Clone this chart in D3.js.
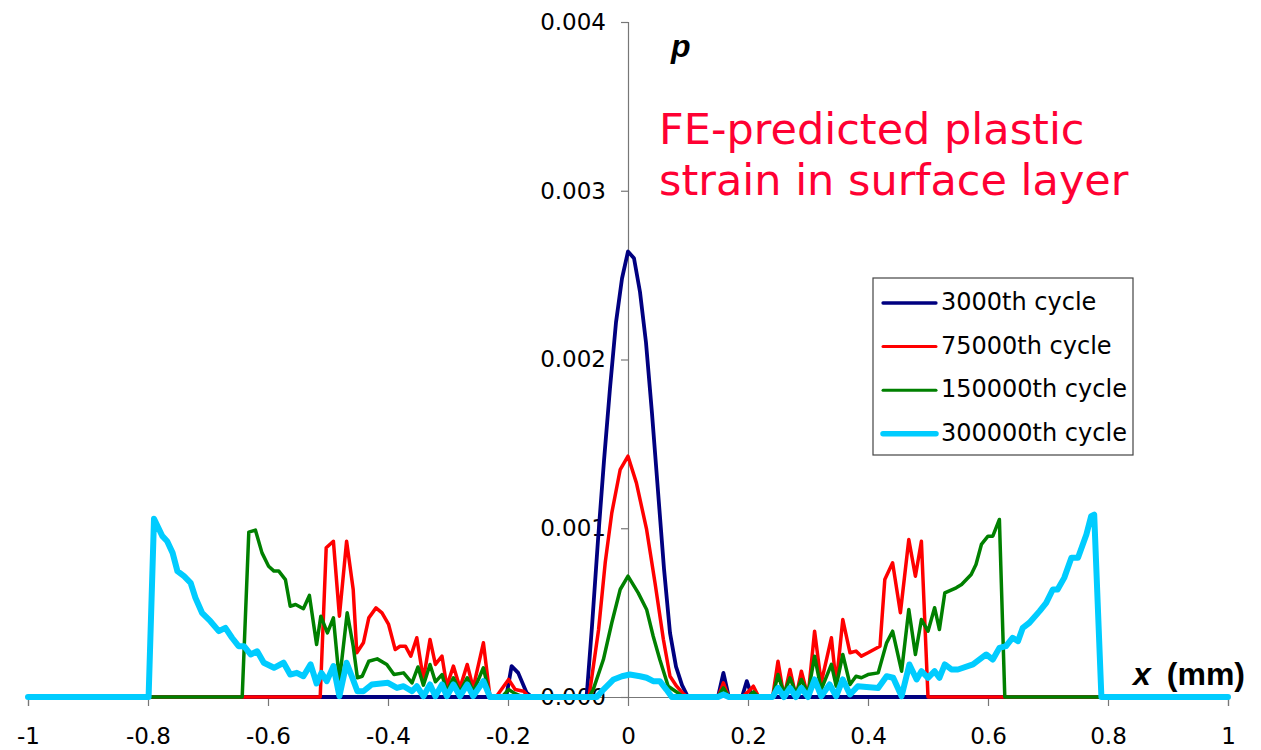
<!DOCTYPE html>
<html>
<head>
<meta charset="utf-8">
<script src="https://cdn.jsdelivr.net/npm/d3@7"></script>
<style>
    body { margin: 0; background: #fff; }
    svg { display: block; }
</style>
</head>
<body>
<div id="chart"></div>
<script>
// values, [x in mm, p]
const cycle3000 = [
    [-1, 0], [-0.21, 0], [-0.202, 0.00002], [-0.194, 0.000183], [-0.183, 0.000143], [-0.169, 0.000025], [-0.16, 0],
    [-0.069, 0], [-0.06, 0.00042], [-0.05, 0.00093], [-0.04, 0.0014], [-0.03, 0.00183], [-0.02, 0.00222], [-0.01, 0.00248],
    [0, 0.00264], [0.01, 0.0026], [0.02, 0.0024], [0.03, 0.0021], [0.04, 0.00168], [0.05, 0.00122], [0.06, 0.00076],
    [0.07, 0.00038], [0.08, 0.00018], [0.09, 0.00007], [0.1, 0], [0.15, 0], [0.159, 0.000143], [0.168, 0],
    [0.19, 0], [0.198, 0.000094], [0.207, 0], [1, 0]
];

const cycle75000 = [
    [-1, 0], [-0.513, 0], [-0.503, 0.000884], [-0.491, 0.000923], [-0.481, 0.000479], [-0.469, 0.000923],
    [-0.458, 0.000637], [-0.452, 0.000262], [-0.441, 0.000321], [-0.432, 0.000469], [-0.42, 0.000528],
    [-0.41, 0.000499], [-0.399, 0.00043], [-0.388, 0.000281], [-0.38, 0.000301], [-0.371, 0.000301],
    [-0.362, 0.000242], [-0.352, 0.000351], [-0.341, 0.000104], [-0.33, 0.000341], [-0.321, 0.000193],
    [-0.31, 0.000242], [-0.302, 0.000064], [-0.291, 0.000183], [-0.28, 0.000054], [-0.268, 0.000193],
    [-0.258, 0.000054], [-0.241, 0.000321], [-0.23, 0], [-0.22, 0], [-0.199, 0.000104], [-0.188, 0.000044],
    [-0.174, 0.000034], [-0.165, 0], [-0.065, 0], [-0.049, 0.0004], [-0.038, 0.000795], [-0.027, 0.001091],
    [-0.013, 0.001348], [0, 0.001427], [0.014, 0.001269], [0.031, 0.000993], [0.045, 0.000677], [0.059, 0.000341],
    [0.07, 0.000123], [0.081, 0.000064], [0.092, 0.00002], [0.1, 0], [0.15, 0], [0.159, 0.000084], [0.168, 0],
    [0.19, 0], [0.2, 0.00003], [0.209, 0.000064], [0.218, 0], [0.241, 0], [0.25, 0.000212], [0.26, 0],
    [0.27, 0.000163], [0.28, 0], [0.289, 0.000153], [0.3, 0], [0.311, 0.00039], [0.322, 0.000084],
    [0.339, 0.000351], [0.347, 0.000074], [0.358, 0.000459], [0.37, 0.000262], [0.38, 0.000272],
    [0.389, 0.000242], [0.4, 0.000262], [0.42, 0.000301], [0.428, 0.000696], [0.441, 0.000795],
    [0.454, 0.000499], [0.468, 0.000933], [0.479, 0.000716], [0.489, 0.000923], [0.5, 0], [1, 0]
];

const cycle150000 = [
    [-1, 0], [-0.643, 0], [-0.632, 0.000977], [-0.621, 0.000989], [-0.61, 0.000854], [-0.599, 0.000775],
    [-0.59, 0.000746], [-0.582, 0.000746], [-0.571, 0.000696], [-0.563, 0.000538], [-0.554, 0.000548],
    [-0.541, 0.000523], [-0.531, 0.000602], [-0.519, 0.000311], [-0.512, 0.000479], [-0.501, 0.00038],
    [-0.491, 0.000469], [-0.481, 0.000094], [-0.468, 0.000499], [-0.458, 0.000301], [-0.451, 0.000114],
    [-0.443, 0.000123], [-0.432, 0.000212], [-0.418, 0.000226], [-0.402, 0.000193], [-0.39, 0.000133],
    [-0.374, 0.000143], [-0.36, 0.000084], [-0.35, 0.000178], [-0.341, 0.00007], [-0.33, 0.000193],
    [-0.321, 0.00009], [-0.31, 0.000133], [-0.302, 0.00003], [-0.291, 0.000114], [-0.28, 0.00003],
    [-0.268, 0.000114], [-0.258, 0.00003], [-0.241, 0.000173], [-0.23, 0], [-0.21, 0], [-0.199, 0.000044],
    [-0.188, 0.00002], [-0.175, 0], [-0.065, 0], [-0.058, 0.000044], [-0.041, 0.000222], [-0.027, 0.00044],
    [-0.013, 0.000637], [0, 0.000716], [0.017, 0.000617], [0.031, 0.000519], [0.042, 0.00036], [0.053, 0.000222],
    [0.067, 0.000064], [0.081, 0.00003], [0.092, 0], [0.15, 0], [0.159, 0.000054], [0.168, 0], [0.2, 0],
    [0.209, 0.00003], [0.218, 0], [0.241, 0], [0.25, 0.000133], [0.26, 0.00002], [0.27, 0.000114], [0.28, 0.00002],
    [0.289, 0.000104], [0.3, 0.00002], [0.311, 0.000242], [0.322, 0.000044], [0.339, 0.000193], [0.347, 0.000064],
    [0.358, 0.000252], [0.37, 0.000074], [0.38, 0.000123], [0.389, 0.000114], [0.4, 0.000133], [0.417, 0.000143],
    [0.431, 0.000321], [0.441, 0.00039], [0.456, 0.000153], [0.468, 0.000519], [0.479, 0.000252], [0.489, 0.000459],
    [0.5, 0.00039], [0.511, 0.000529], [0.519, 0.0004], [0.528, 0.000617], [0.547, 0.000647], [0.556, 0.000667],
    [0.572, 0.000726], [0.58, 0.000785], [0.589, 0.000904], [0.6, 0.000953], [0.608, 0.000953], [0.619, 0.001052],
    [0.628, 0], [1, 0]
];

const cycle300000 = [
    [-1, 0], [-0.799, 0], [-0.79, 0.001056], [-0.776, 0.000953], [-0.768, 0.000923], [-0.759, 0.000854],
    [-0.751, 0.000746], [-0.74, 0.000716], [-0.729, 0.000677], [-0.721, 0.000588], [-0.71, 0.000499],
    [-0.696, 0.000449], [-0.682, 0.00039], [-0.671, 0.00041], [-0.66, 0.000351], [-0.649, 0.000301],
    [-0.64, 0.000301], [-0.629, 0.000252], [-0.618, 0.000271], [-0.607, 0.000203], [-0.59, 0.000173],
    [-0.574, 0.000203], [-0.563, 0.000133], [-0.552, 0.000143], [-0.541, 0.000123], [-0.529, 0.000193],
    [-0.519, 0.00008], [-0.511, 0.000143], [-0.502, 0.000094], [-0.491, 0.000183], [-0.481, 0.000005],
    [-0.469, 0.000203], [-0.459, 0.00011], [-0.451, 0.000034], [-0.441, 0.000034], [-0.427, 0.000074],
    [-0.4, 0.000084], [-0.385, 0.000054], [-0.374, 0.000064], [-0.36, 0.000034], [-0.352, 0.000064],
    [-0.341, 0.000005], [-0.33, 0.000074], [-0.321, 0.000005], [-0.31, 0.000074], [-0.302, 0.000005],
    [-0.291, 0.000074], [-0.28, 0.000005], [-0.268, 0.000074], [-0.258, 0.000005], [-0.241, 0.000094],
    [-0.23, 0], [-0.052, 0], [-0.041, 0.000044], [-0.024, 0.000104], [-0.01, 0.000123], [0.003, 0.000133],
    [0.02, 0.000123], [0.031, 0.000114], [0.042, 0.000094], [0.053, 0.000094], [0.064, 0.000044], [0.073, 0],
    [0.15, 0], [0.159, 0.000015], [0.168, 0], [0.241, 0], [0.25, 0.000054], [0.26, 0], [0.27, 0.000054], [0.28, 0],
    [0.289, 0.000054], [0.3, 0], [0.311, 0.000104], [0.322, 0.000005], [0.336, 0.000074], [0.347, 0.000005],
    [0.358, 0.000104], [0.37, 0.000015], [0.383, 0.000064], [0.417, 0.000054], [0.431, 0.000123],
    [0.442, 0.000114], [0.456, 0.000005], [0.469, 0.000193], [0.481, 0.000104], [0.489, 0.000153],
    [0.5, 0.000114], [0.511, 0.000153], [0.519, 0.000114], [0.528, 0.000193], [0.539, 0.000163],
    [0.55, 0.000163], [0.575, 0.000193], [0.597, 0.000252], [0.608, 0.000222], [0.619, 0.000291],
    [0.63, 0.000301], [0.641, 0.000351], [0.65, 0.000331], [0.658, 0.00041], [0.669, 0.00044],
    [0.686, 0.000509], [0.697, 0.000558], [0.708, 0.000637], [0.716, 0.000637], [0.727, 0.000706],
    [0.739, 0.000825], [0.75, 0.000825], [0.764, 0.000963], [0.772, 0.001072], [0.777, 0.001081],
    [0.789, 0], [1, 0]
];

const seriesNames = ["3000th cycle", "75000th cycle", "150000th cycle", "300000th cycle"];
const seriesColors = ["#000080", "#ff0000", "#008000", "#00ccff"];
const seriesWidths = [3.8, 3.5, 3.5, 6];
const xTicks = [-1, -0.8, -0.6, -0.4, -0.2, 0, 0.2, 0.4, 0.6, 0.8, 1];
const yTicks = [0, 0.001, 0.002, 0.003, 0.004];

const allSeries = [cycle3000, cycle75000, cycle150000, cycle300000];

const margin = {top: 22, right: 33, bottom: 53, left: 28},
    width = 1261 - margin.left - margin.right,
    height = 750 - margin.top - margin.bottom;

const svg = d3.select("#chart").append("svg")
    .attr("width", 1261)
    .attr("height", 750);

const g = svg.append("g")
    .attr("transform", "translate(" + margin.left + "," + margin.top + ")");

const x = d3.scaleLinear()
    .domain([-1, 1])
    .range([0, width]);

const y = d3.scaleLinear()
    .domain([0, 0.004])
    .range([height, 0]);

const tickFont = "'DejaVu Sans', Verdana, sans-serif";

// x axis along p = 0
const xAxis = g.append("g")
    .attr("transform", "translate(0," + y(0) + ")")
    .call(d3.axisBottom(x)
        .tickValues(xTicks)
        .tickSize(9)
        .tickPadding(22)
        .tickFormat(d => String(+d.toFixed(1))));

// y axis sits on x = 0
const yAxis = g.append("g")
    .attr("transform", "translate(" + x(0) + ",0)")
    .call(d3.axisLeft(y)
        .tickValues(yTicks)
        .tickSize(7)
        .tickPadding(15)
        .tickFormat(d3.format(".3f")));

[xAxis, yAxis].forEach(function (a) {
    a.select(".domain").attr("stroke", "#777").attr("stroke-width", 1.2);
    a.selectAll(".tick line").attr("stroke", "#777").attr("stroke-width", 1.2);
    a.selectAll(".tick text")
        .style("font-family", tickFont)
        .style("font-size", "23px")
        .attr("fill", "#000");
});

const line = d3.line()
    .x(function (d) { return x(d[0]); })
    .y(function (d) { return y(d[1]); });

g.append("g")
    .selectAll("path")
    .data(allSeries)
    .enter()
    .append("path")
    .attr("d", line)
    .attr("fill", "none")
    .attr("stroke", function (d, i) { return seriesColors[i]; })
    .attr("stroke-width", function (d, i) { return seriesWidths[i]; })
    .attr("stroke-linejoin", "round")
    .attr("stroke-linecap", "round");

// axis names
svg.append("text")
    .attr("x", 671)
    .attr("y", 57)
    .style("font-family", "'Liberation Sans', Arial, sans-serif")
    .style("font-size", "32px")
    .style("font-weight", "bold")
    .style("font-style", "italic")
    .text("p");

const xName = svg.append("text")
    .attr("x", 1133)
    .attr("y", 685)
    .style("font-family", "'Liberation Sans', Arial, sans-serif")
    .style("font-size", "32px")
    .style("font-weight", "bold");
xName.append("tspan").style("font-style", "italic").text("x");
xName.append("tspan").attr("dx", 16).text("(mm)");

// red caption
const caption = svg.append("text")
    .style("font-family", tickFont)
    .style("font-size", "43px")
    .attr("fill", "#ff0033");
caption.append("tspan").attr("x", 659).attr("y", 144).text("FE-predicted plastic");
caption.append("tspan").attr("x", 659).attr("y", 195).text("strain in surface layer");

// legend
const legend = svg.append("g")
    .attr("transform", "translate(873,278)");

legend.append("rect")
    .attr("width", 260)
    .attr("height", 177)
    .attr("fill", "#fff")
    .attr("stroke", "#444")
    .attr("stroke-width", 1.2);

const rows = legend.selectAll(".row")
    .data(seriesNames)
    .enter()
    .append("g")
    .attr("class", "row")
    .attr("transform", function (d, i) { return "translate(0," + (25 + i * 43.6) + ")"; });

rows.append("line")
    .attr("x1", 10)
    .attr("x2", 63)
    .attr("stroke", function (d, i) { return seriesColors[i]; })
    .attr("stroke-width", function (d, i) { return seriesWidths[i] - 0.5; })
    .attr("stroke-linecap", "round");

rows.append("text")
    .attr("x", 68)
    .attr("y", 7)
    .style("font-family", tickFont)
    .style("font-size", "24px")
    .attr("fill", "#000")
    .text(function (d) { return d; });
</script>
</body>
</html>
